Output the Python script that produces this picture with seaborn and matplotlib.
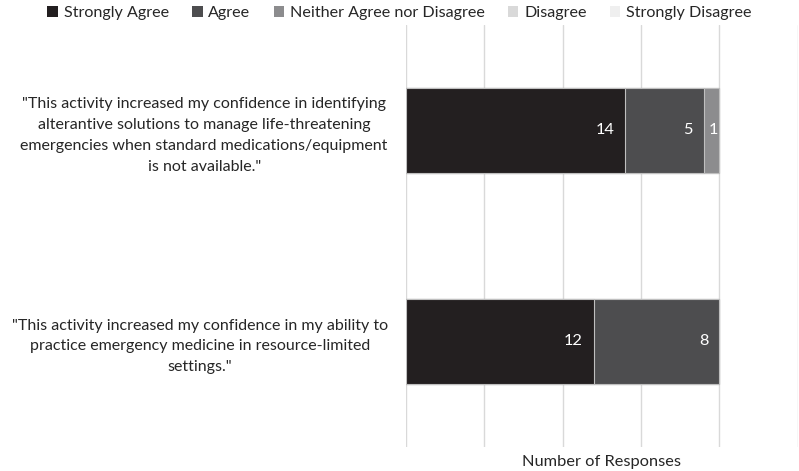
import matplotlib
matplotlib.use("Agg")
import matplotlib.pyplot as plt
import seaborn as sns
import pandas as pd
import numpy as np
from matplotlib.patches import Patch

questions = [
    '"This activity increased my confidence in identifying\nalterantive solutions to manage life-threatening\nemergencies when standard medications/equipment\nis not available."',
    '"This activity increased my confidence in my ability to\npractice emergency medicine in resource-limited\nsettings."',
]
categories = ["Strongly Agree", "Agree", "Neither Agree nor Disagree", "Disagree", "Strongly Disagree"]
strongly_agree = [14, 12]
agree = [5, 8]
neither = [1, 0]
disagree = [0, 0]
strongly_disagree = [0, 0]
colors = ["#231F20", "#4D4D4F", "#8C8C8E", "#D9D9D9", "#EFEFEF"]

series = [strongly_agree, agree, neither, disagree, strongly_disagree]

sns.set_theme(style="white")
plt.rcParams['font.family'] = ['Lato', 'DejaVu Sans']

fig = plt.figure(figsize=(7.99, 4.71), dpi=100)
ax = fig.add_axes([0.508, 0.051, 0.4905, 0.896])

cum = np.cumsum(np.array(series), axis=0)
# draw from largest cumulative to smallest so segments stack visually
for i in range(len(categories) - 1, -1, -1):
    df = pd.DataFrame({"q": questions, "v": cum[i]})
    sns.barplot(data=df, x="v", y="q", orient="h", color=colors[i], saturation=1,
                width=0.4, edgecolor="#BFBFBF", linewidth=0.8, ax=ax, zorder=3)

# data labels (inside end; centered when the segment is narrow)
for i, vals in enumerate(series):
    for j, v in enumerate(vals):
        if v > 0:
            if v >= 2:
                ax.annotate(str(v), xy=(cum[i][j], j), xytext=(-8, 0), textcoords="offset points",
                            ha="right", va="center", color="white", fontsize=11.8)
            else:
                ax.annotate(str(v), xy=(cum[i][j] - v / 2, j), xytext=(1, 0), textcoords="offset points",
                            ha="center", va="center", color="white", fontsize=11.8)

ax.set_xlim(0, 25)
ax.set_xticks(np.arange(0, 26, 5))
ax.set_xticklabels([])
ax.tick_params(axis="x", length=0, pad=0)
ax.tick_params(axis="y", length=0, pad=13, labelsize=11.5, labelcolor="#262626")
for lab in ax.get_yticklabels():
    lab.set_multialignment("center")
    lab.set_linespacing(1.62)
ax.set_ylim(1.5, -0.5)
ax.grid(axis="x", color="#D9D9D9", linewidth=1, zorder=0)
ax.set_axisbelow(True)
for s in ax.spines.values():
    s.set_visible(False)
ax.set_ylabel("")
ax.set_xlabel("Number of Responses", fontsize=11.8, color="#262626", labelpad=6)

handles = [Patch(facecolor=c, edgecolor="none") for c in colors]
fig.legend(handles, categories, loc="upper center", bbox_to_anchor=(0.5, 1.018), ncol=5,
           frameon=False, fontsize=11.6, handlelength=0.65, handleheight=0.65,
           handletextpad=0.35, columnspacing=1.45, labelcolor="#262626")

fig.savefig("out.png", dpi=100)
